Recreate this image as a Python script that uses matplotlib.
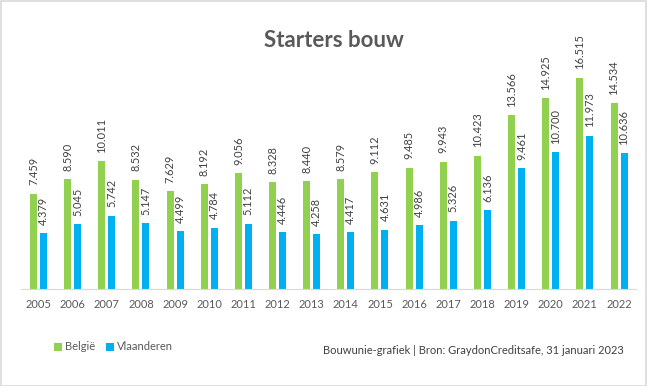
import matplotlib.pyplot as plt
from matplotlib.patches import Rectangle
import numpy as np

plt.rcParams['font.family'] = ['Lato', 'DejaVu Sans']

# data
years = [str(y) for y in range(2005, 2023)]
belgie = [7459, 8590, 10011, 8532, 7629, 8192, 9056, 8328, 8440,
          8579, 9112, 9485, 9943, 10423, 13566, 14925, 16515, 14534]
vlaanderen = [4379, 5045, 5742, 5147, 4499, 4784, 5112, 4446, 4258,
              4417, 4631, 4986, 5326, 6136, 9461, 10700, 11973, 10636]

green = '#92D050'
blue = '#00B0F0'


def fmt(v):
    return f"{v:,}".replace(",", ".")


fig = plt.figure(figsize=(6.47, 3.86), dpi=100)
fig.patches.append(Rectangle((0.001, 0.001), 0.997, 0.996, transform=fig.transFigure,
                             fill=False, edgecolor='#D9D9D9', linewidth=1.2))

ax = fig.add_axes([21.4 / 647, 97 / 386, 614.7 / 647, 230.4 / 386])

x = np.arange(len(years))
w = 0.205
off = 0.146
b1 = ax.bar(x - off, belgie, w, color=green, label='België')
b2 = ax.bar(x + off, vlaanderen, w, color=blue, label='Vlaanderen')

for bars, vals in [(b1, belgie), (b2, vlaanderen)]:
    for r, v in zip(bars, vals):
        ax.annotate(fmt(v), (r.get_x() + r.get_width() / 2, r.get_height()),
                    xytext=(0, 6), textcoords='offset points', rotation=90,
                    ha='center', va='bottom', fontsize=7.9, color='#404040')

ax.set_xlim(-0.5, len(years) - 0.5)
ax.set_ylim(0, 18000)
ax.set_xticks(x)
ax.set_xticklabels(years)
ax.tick_params(axis='x', length=0, pad=7, labelsize=8, labelcolor='#595959')
ax.set_yticks([])
for s in ['top', 'right', 'left']:
    ax.spines[s].set_visible(False)
ax.spines['bottom'].set_color('#D9D9D9')

fig.text(0.516, 0.895, 'Starters bouw', ha='center', va='center',
         fontsize=16, fontweight='bold', color='#595959')

fig.legend(handles=[b1, b2], loc='center left', bbox_to_anchor=(44 / 647, 1 - 347 / 386),
           ncol=2, frameon=False, fontsize=8, handlelength=0.7, handleheight=0.7,
           handletextpad=0.3, columnspacing=1.0, labelcolor='#595959')

fig.text(624 / 647, 1 - 351 / 386, 'Bouwunie-grafiek | Bron: GraydonCreditsafe, 31 januari 2023',
         ha='right', va='center', fontsize=8.05, color='#404040')

fig.savefig('out.png', dpi=100)
